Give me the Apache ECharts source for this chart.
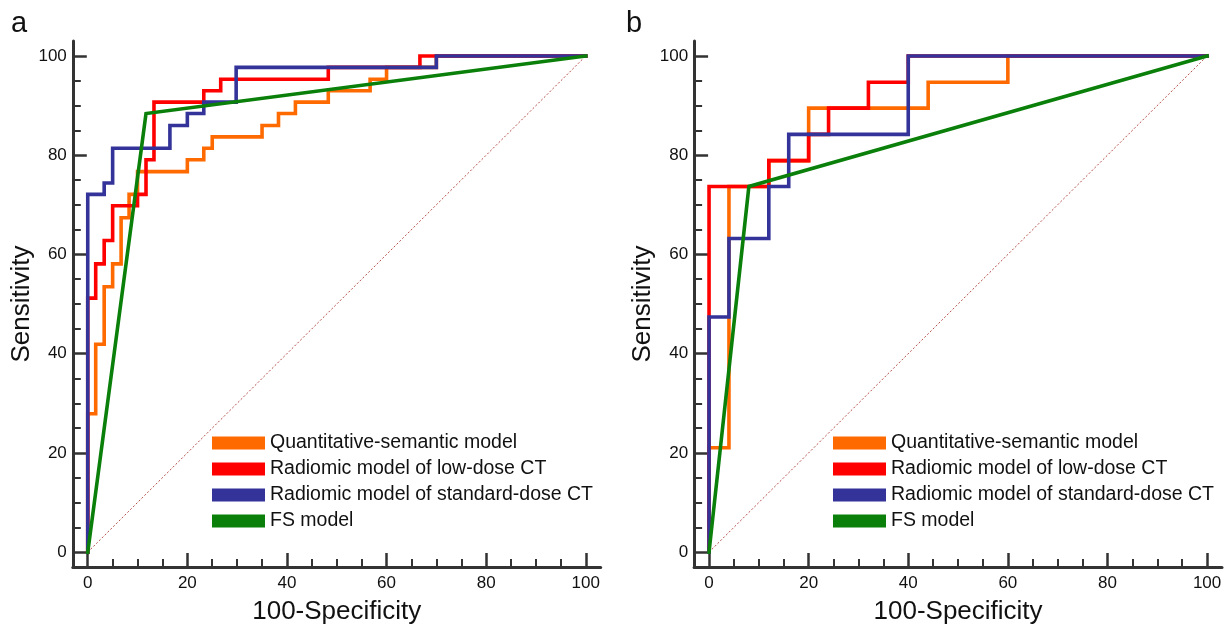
<!DOCTYPE html>
<html>
<head>
<meta charset="utf-8">
<script src="https://cdn.jsdelivr.net/npm/echarts@6/dist/echarts.min.js"></script>
<style>html,body{margin:0;padding:0;background:#fff}#c{width:1225px;height:630px}</style>
</head>
<body>
<div id="c"></div>
<script>
// ---- data (x = 100-Specificity, y = Sensitivity) ----
const seriesNames = ['Quantitative-semantic model', 'Radiomic model of low-dose CT', 'Radiomic model of standard-dose CT', 'FS model'];
const majorTicks = [0, 20, 40, 60, 80, 100];
const minorTicks = [5, 10, 15, 25, 30, 35, 45, 50, 55, 65, 70, 75, 85, 90, 95];
const diagonal = [[0, 0], [100, 100]];

// panel a
const aQuant = [[0,0],[0,27.9],[1.6,27.9],[1.6,41.9],[3.3,41.9],[3.3,53.5],[5,53.5],[5,58.1],[6.7,58.1],[6.7,67.4],[8.3,67.4],[8.3,72.1],[10,72.1],[10,76.7],[20,76.7],[20,79.1],[23.3,79.1],[23.3,81.4],[25,81.4],[25,83.7],[35,83.7],[35,86.0],[38.3,86.0],[38.3,88.4],[41.7,88.4],[41.7,90.7],[48.3,90.7],[48.3,93.0],[56.7,93.0],[56.7,95.3],[60,95.3],[60,97.7],[70,97.7],[70,100],[100,100]];
const aLow = [[0,0],[0,51.2],[1.6,51.2],[1.6,58.1],[3.3,58.1],[3.3,62.8],[5,62.8],[5,69.8],[10,69.8],[10,72.1],[11.7,72.1],[11.7,79.1],[13.3,79.1],[13.3,90.7],[23.3,90.7],[23.3,93.0],[26.7,93.0],[26.7,95.3],[48.3,95.3],[48.3,97.7],[66.7,97.7],[66.7,100],[100,100]];
const aStd = [[0,0],[0,72.1],[3.3,72.1],[3.3,74.4],[5,74.4],[5,81.4],[16.5,81.4],[16.5,86.0],[20,86.0],[20,88.4],[23.3,88.4],[23.3,90.7],[29.8,90.7],[29.8,97.7],[70,97.7],[70,100],[100,100]];
const aFS = [[0,0],[11.7,88.4],[100,100]];

// panel b
const bQuant = [[0,0],[0,21.05],[4,21.05],[4,73.7],[12,73.7],[12,78.9],[20,78.9],[20,89.5],[44,89.5],[44,94.7],[60,94.7],[60,100],[100,100]];
const bLow = [[0,0],[0,73.7],[12,73.7],[12,78.9],[20,78.9],[20,84.2],[24,84.2],[24,89.5],[32,89.5],[32,94.7],[40,94.7],[40,100],[100,100]];
const bStd = [[0,0],[0,47.4],[4,47.4],[4,63.2],[12,63.2],[12,73.7],[16,73.7],[16,84.2],[40,84.2],[40,100],[100,100]];
const bFS = [[0,0],[8,73.7],[100,100]];

const colors = ['#ff6a00', '#ff0000', '#333399', '#0a800a'];
const FONT = '"Liberation Sans", Arial, sans-serif';
const AX = '#333';

function xAxes(grid) {
  return [{
    type: 'value', gridIndex: grid, min: -3, max: 103,
    name: '100-Specificity', nameLocation: 'middle', nameGap: 32,
    nameTextStyle: { fontFamily: FONT, fontSize: 26, color: '#111' },
    axisLine: { show: true, onZero: false, lineStyle: { color: AX, width: 3 } },
    axisTick: { show: true, inside: true, length: 14, customValues: majorTicks, lineStyle: { color: AX, width: 2.5 } },
    axisLabel: { show: true, customValues: majorTicks, margin: 8, fontFamily: FONT, fontSize: 17, color: '#111' },
    splitLine: { show: false }
  }, {
    type: 'value', gridIndex: grid, min: -3, max: 103, position: 'bottom',
    axisLine: { show: false, onZero: false },
    axisTick: { show: true, inside: true, length: 8, customValues: minorTicks, lineStyle: { color: AX, width: 2 } },
    axisLabel: { show: false, customValues: minorTicks },
    splitLine: { show: false }
  }];
}
function yAxes(grid) {
  return [{
    type: 'value', gridIndex: grid, min: -3, max: 103,
    name: 'Sensitivity', nameLocation: 'middle', nameGap: 27,
    nameTextStyle: { fontFamily: FONT, fontSize: 26, color: '#111' },
    axisLine: { show: true, onZero: false, lineStyle: { color: AX, width: 3 } },
    axisTick: { show: true, inside: true, length: 14, customValues: majorTicks, lineStyle: { color: AX, width: 2.5 } },
    axisLabel: { show: true, customValues: majorTicks, margin: 6, fontFamily: FONT, fontSize: 17, color: '#111' },
    splitLine: { show: false }
  }, {
    type: 'value', gridIndex: grid, min: -3, max: 103, position: 'left',
    axisLine: { show: false, onZero: false },
    axisTick: { show: true, inside: true, length: 8, customValues: minorTicks, lineStyle: { color: AX, width: 2 } },
    axisLabel: { show: false, customValues: minorTicks },
    splitLine: { show: false }
  }];
}

function panelSeries(grid, sets) {
  const xi = grid * 2, yi = grid * 2;
  const out = [{
    type: 'line', xAxisIndex: xi, yAxisIndex: yi, data: diagonal, symbol: 'none', silent: true,
    lineStyle: { color: '#b5504a', width: 1, type: [2, 2] }, z: 1, legendHoverLink: false
  }];
  sets.forEach((d, i) => {
    out.push({
      name: seriesNames[i], type: 'line', xAxisIndex: xi, yAxisIndex: yi, data: d,
      symbol: 'none', color: colors[i], itemStyle: { color: colors[i] },
      lineStyle: { color: colors[i], width: 3.6, cap: 'square', join: 'miter' }, z: 2 + i
    });
  });
  return out;
}

const legendCommon = {
  orient: 'vertical', icon: 'rect', itemWidth: 53, itemHeight: 13, itemGap: 6,
  data: seriesNames, selectedMode: false,
  textStyle: { fontFamily: FONT, fontSize: 19.5, color: '#111', lineHeight: 18 }
};

const option = {
  animation: false,
  backgroundColor: '#fff',
  grid: [
    { left: 72.8, top: 41.1, width: 527.9, height: 526.8 },
    { left: 694.1, top: 41.1, width: 527.9, height: 526.8 }
  ],
  xAxis: [...xAxes(0), ...xAxes(1)],
  yAxis: [...yAxes(0), ...yAxes(1)],
  legend: [
    Object.assign({}, legendCommon, { left: 207, top: 428 }),
    Object.assign({}, legendCommon, { left: 828, top: 428 })
  ],
  graphic: [
    { type: 'text', left: 11, top: 9, style: { text: 'a', font: '29px ' + FONT, fill: '#111' } },
    { type: 'text', left: 626, top: 9, style: { text: 'b', font: '29px ' + FONT, fill: '#111' } }
  ],
  series: [
    ...panelSeries(0, [aQuant, aLow, aStd, aFS]),
    ...panelSeries(1, [bQuant, bLow, bStd, bFS])
  ]
};

const chart = echarts.init(document.getElementById('c'), null, { renderer: 'canvas' });
chart.setOption(option);
</script>
</body>
</html>
